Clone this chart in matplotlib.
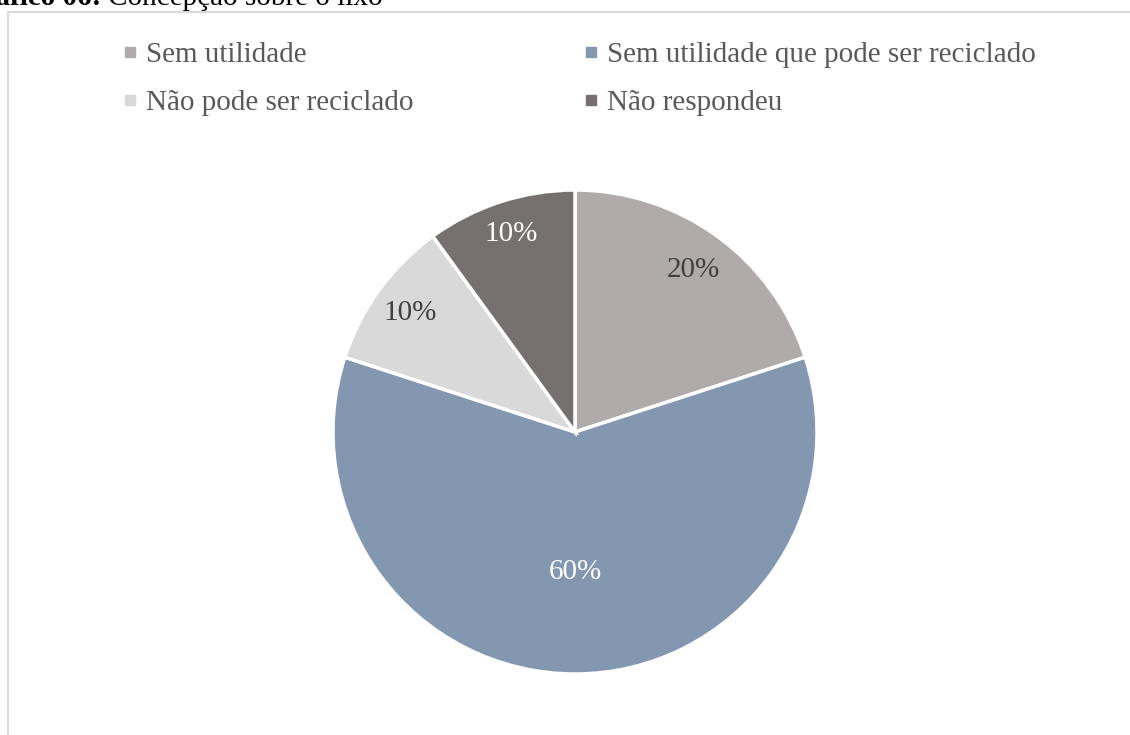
import matplotlib.pyplot as plt
from matplotlib.lines import Line2D
import numpy as np

plt.rcParams['font.family'] = ['Liberation Serif', 'DejaVu Serif']

categorias = ['Sem utilidade', 'Sem utilidade que pode ser reciclado',
              'Não pode ser reciclado', 'Não respondeu']
percentuais = [20, 60, 10, 10]
cores = ['#AEABAA', '#8497B0', '#D9D9D9', '#767171']
cor_rotulo = ['#404040', 'white', '#404040', 'white']
dist_rotulo = [0.83, 0.58, 0.84, 0.86]

W, H = 1130, 735
fs = 21
fig = plt.figure(figsize=(W / 100, H / 100), dpi=100)

# moldura do grafico (cortada na borda direita e inferior)
fig.add_artist(Line2D([8 / W, 8 / W], [0, 1 - 12 / H], color='#D9D9D9', lw=1.5))
fig.add_artist(Line2D([8 / W, 1], [1 - 12 / H, 1 - 12 / H], color='#D9D9D9', lw=1.5))

# titulo
fig.text(-40 / W, 1 - 5 / H, 'Gráfico 06:', fontsize=fs, fontweight='bold',
         va='baseline', ha='left', color='black')
fig.text(108 / W, 1 - 5 / H, 'Concepção sobre o lixo', fontsize=fs,
         va='baseline', ha='left', color='black')

# pizza
cx, cy, r = 575, 432, 242
ax = fig.add_axes([(cx - r) / W, (H - cy - r) / H, 2 * r / W, 2 * r / H])
wedges, _ = ax.pie(percentuais, colors=cores, startangle=90, counterclock=False,
                   wedgeprops=dict(edgecolor='white', linewidth=2.5))
ax.set_xlim(-1, 1)
ax.set_ylim(-1, 1)

for w, p, c, d in zip(wedges, percentuais, cor_rotulo, dist_rotulo):
    ang = np.deg2rad((w.theta1 + w.theta2) / 2)
    ax.text(d * np.cos(ang), d * np.sin(ang), f'{p}%', ha='center', va='center',
            fontsize=fs, color=c)

# legenda em duas colunas
ordem = [0, 2, 1, 3]
handles = [Line2D([], [], marker='s', linestyle='none', markersize=7.2,
                  markerfacecolor=cores[i], markeredgecolor=cores[i]) for i in ordem]
labels = [categorias[i] for i in ordem]
fig.legend(handles, labels, ncol=2, loc='upper left',
           bbox_to_anchor=(124 / W, 1 - 42 / H), frameon=False,
           fontsize=fs, labelcolor='#595959', handlelength=0.4,
           handletextpad=0.35, columnspacing=5.9, labelspacing=0.74,
           borderpad=0, borderaxespad=0)

fig.savefig('out.png', dpi=100)
